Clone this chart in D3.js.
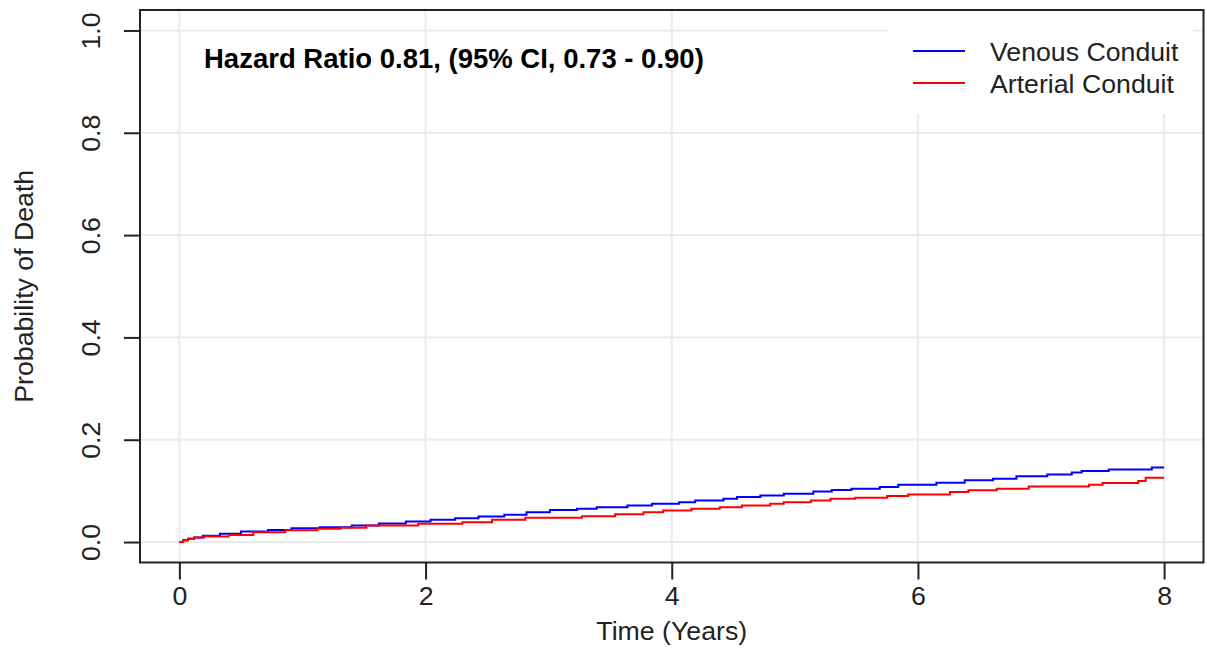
<!DOCTYPE html>
<html lang="en">
<head>
<meta charset="UTF-8">
<title>Probability of Death</title>
<script src="https://d3js.org/d3.v7.min.js"></script>
<style>
  body { margin: 0; background: #fff; font-family: Arial, "Liberation Sans", sans-serif; }
  svg { display: block; }
  .tick text { font-size: 26.7px; fill: #222; }
  .grid line { stroke: #ebebeb; stroke-width: 2px; }
  .axis-title { font-size: 26.7px; fill: #222; }
  .legend text { font-size: 26.7px; fill: #222; }
</style>
</head>
<body>
<svg id="chart" width="1207" height="648"></svg>
<script>
// step-function estimates
const venousTime = [0, 0.03, 0.07, 0.12, 0.19, 0.33, 0.50, 0.72, 0.91, 1.14, 1.40, 1.62, 1.84, 2.04, 2.24, 2.43, 2.64, 2.82, 3.01, 3.23, 3.39, 3.64, 3.84, 4.06, 4.19, 4.42, 4.53, 4.72, 4.91, 5.15, 5.30, 5.46, 5.69, 5.84, 6.15, 6.38, 6.61, 6.80, 7.05, 7.25, 7.33, 7.55, 7.90, 8.0];
const venousProb = [0, 0.0035, 0.0065, 0.009, 0.0125, 0.016, 0.0205, 0.0235, 0.027, 0.029, 0.0324, 0.0363, 0.0402, 0.0435, 0.0467, 0.050, 0.0535, 0.0584, 0.0624, 0.0651, 0.0682, 0.0716, 0.0749, 0.078, 0.0814, 0.0847, 0.0878, 0.0912, 0.0945, 0.099, 0.1016, 0.1043, 0.1075, 0.1122, 0.1161, 0.1206, 0.1239, 0.1284, 0.1318, 0.1357, 0.1388, 0.1416, 0.1455, 0.1455];

const arterialTime = [0, 0.03, 0.07, 0.12, 0.20, 0.40, 0.60, 0.86, 1.12, 1.31, 1.52, 1.94, 2.30, 2.54, 2.81, 3.27, 3.54, 3.77, 3.93, 4.16, 4.39, 4.57, 4.80, 4.91, 5.13, 5.29, 5.49, 5.75, 5.92, 6.26, 6.41, 6.64, 6.90, 7.39, 7.50, 7.79, 7.85, 8.0];
const arterialProb = [0, 0.0035, 0.0065, 0.009, 0.0108, 0.014, 0.019, 0.023, 0.026, 0.028, 0.0324, 0.0357, 0.0388, 0.0435, 0.0475, 0.0506, 0.0545, 0.0584, 0.0618, 0.0651, 0.0682, 0.0716, 0.0749, 0.078, 0.0814, 0.0847, 0.0867, 0.0898, 0.0931, 0.0976, 0.101, 0.1043, 0.1088, 0.1122, 0.1153, 0.1192, 0.1259, 0.1259];

const xTicks = [0, 2, 4, 6, 8];
const yTicks = [0, 0.2, 0.4, 0.6, 0.8, 1.0];
const seriesNames = ["Venous Conduit", "Arterial Conduit"];
const seriesColors = ["#0000ff", "#ff0000"];
const annotation = "Hazard Ratio 0.81, (95% CI, 0.73 - 0.90)";

const svg = d3.select("#chart");
const plotL = 140, plotR = 1203.5, plotT = 10, plotB = 562.5;

const x = d3.scaleLinear().domain([-0.32, 8.32]).range([plotL, plotR]);
const y = d3.scaleLinear().domain([-0.04, 1.04]).range([plotB, plotT]);

// grid
const grid = svg.append("g").attr("class", "grid");
grid.selectAll(".gx").data(xTicks).enter().append("line")
    .attr("x1", d => x(d)).attr("x2", d => x(d))
    .attr("y1", plotT).attr("y2", plotB);
grid.selectAll(".gy").data(yTicks).enter().append("line")
    .attr("x1", plotL).attr("x2", plotR)
    .attr("y1", d => y(d)).attr("y2", d => y(d));

// curves
const line = d3.line()
    .x(d => x(d[0]))
    .y(d => y(d[1]))
    .curve(d3.curveStepAfter);

const series = [
    d3.zip(venousTime, venousProb),
    d3.zip(arterialTime, arterialProb)
];
svg.selectAll(".curve").data(series).enter().append("path")
    .attr("class", "curve")
    .attr("fill", "none")
    .attr("stroke", (d, i) => seriesColors[i])
    .attr("stroke-width", 2)
    .attr("d", line);

// legend (white box hides the grid behind it)
const legend = svg.append("g").attr("class", "legend");
legend.append("rect")
    .attr("x", 888).attr("y", 11)
    .attr("width", 305).attr("height", 103)
    .attr("fill", "#fff");
seriesNames.forEach((name, i) => {
    const ly = 51 + i * 32;
    legend.append("line")
        .attr("x1", 913).attr("x2", 965)
        .attr("y1", ly).attr("y2", ly)
        .attr("stroke", seriesColors[i])
        .attr("stroke-width", 2);
    legend.append("text")
        .attr("x", 990).attr("y", ly + 10)
        .text(name);
});

// annotation
svg.append("text")
    .attr("x", 204).attr("y", 68)
    .attr("font-size", "27.5px")
    .attr("font-weight", "bold")
    .attr("fill", "#000")
    .text(annotation);

// box
svg.append("rect")
    .attr("x", plotL).attr("y", plotT)
    .attr("width", plotR - plotL).attr("height", plotB - plotT)
    .attr("fill", "none")
    .attr("stroke", "#222")
    .attr("stroke-width", 2);

// axes
const xAxis = svg.append("g")
    .attr("transform", `translate(0,${plotB})`)
    .call(d3.axisBottom(x).tickValues(xTicks).tickSize(17).tickPadding(7).tickFormat(d3.format("d")));
xAxis.select(".domain").remove();
xAxis.selectAll(".tick line").attr("stroke", "#222").attr("stroke-width", 2);

const yAxis = svg.append("g")
    .attr("transform", `translate(${plotL},0)`)
    .call(d3.axisLeft(y).tickValues(yTicks).tickSize(16).tickFormat(d3.format(".1f")));
yAxis.select(".domain").remove();
yAxis.selectAll(".tick line").attr("stroke", "#222").attr("stroke-width", 2);
yAxis.selectAll(".tick text")
    .attr("x", 0).attr("y", 0).attr("dy", 0)
    .attr("transform", "translate(-40.5,0) rotate(-90)")
    .attr("text-anchor", "middle");

// axis titles
svg.append("text")
    .attr("class", "axis-title")
    .attr("x", x(4)).attr("y", 640)
    .attr("text-anchor", "middle")
    .text("Time (Years)");

svg.append("text")
    .attr("class", "axis-title")
    .attr("transform", `translate(33,${y(0.5)}) rotate(-90)`)
    .attr("text-anchor", "middle")
    .text("Probability of Death");
</script>
</body>
</html>
